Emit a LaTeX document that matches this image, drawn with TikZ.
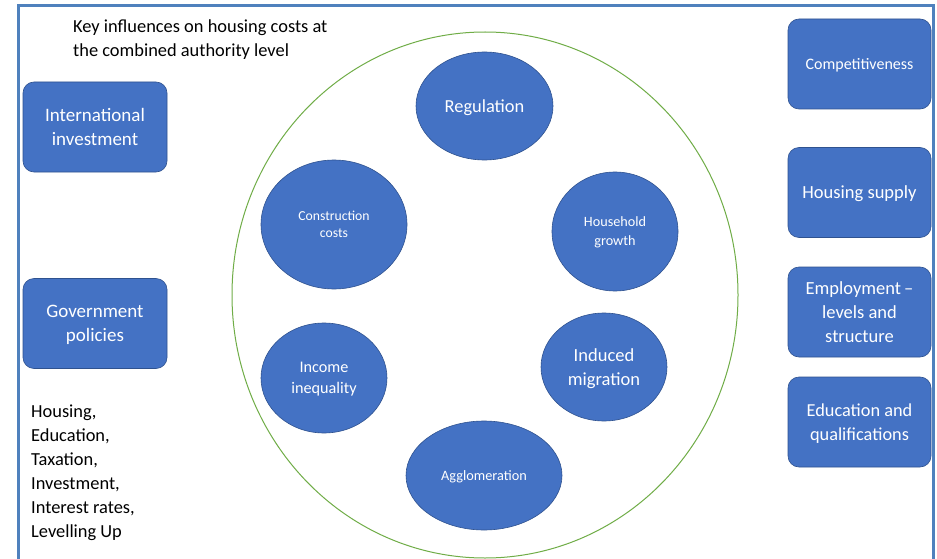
\documentclass[tikz,border=0pt]{standalone}
\usepackage{fontspec}
\setmainfont{Carlito}
\usetikzlibrary{shapes.geometric}
\definecolor{framec}{RGB}{79,129,189}
\definecolor{fillc}{RGB}{68,114,196}
\definecolor{edgec}{RGB}{47,82,143}
\definecolor{ringc}{RGB}{112,173,71}
\begin{document}
\begin{tikzpicture}[x=1pt,y=-1pt,
  box/.style={draw=edgec, line width=0.6pt, fill=fillc, rounded corners=11pt, text=white, align=center, inner sep=0pt, minimum width=143pt, minimum height=90pt, text depth=-4pt},
  blob/.style={ellipse, draw=edgec, line width=0.6pt, fill=fillc, text=white, align=center, inner sep=0pt, text depth=0pt},
  fs/.style={font=\fontsize{#1}{24}\selectfont},
]
\useasboundingbox (0,0) rectangle (937,559);
\fill[white] (0,0) rectangle (937,559);
\draw[framec, line width=3pt] (18,600) -- (18,5.5) -- (933,5.5) -- (933,600);

% title and list
\node[anchor=west, align=left, inner sep=0pt, fs=18.4] (title) at (73,40) {Key influences on housing costs at\\the combined authority level};
\node[anchor=west, align=left, inner sep=0pt, fs=18.4] (list) at (31,473) {Housing,\\Education,\\Taxation,\\Investment,\\Interest rates,\\Levelling Up};

% ring
\node[ellipse, draw=ringc, line width=1pt, minimum width=506pt, minimum height=526pt, inner sep=0pt] (ring) at (485,295) {};

% left boxes
\node[box, minimum width=144pt, fs=19] (intl) at (95,127) {International\\investment};
\node[box, minimum width=144pt, fs=19] (gov) at (95,323.5) {Government\\policies};

% right boxes
\node[box, fs=16] (comp) at (859.5,64) {Competitiveness};
\node[box, fs=18.5] (hsup) at (859.5,192.5) {Housing supply};
\node[box, fs=18.5] (emp) at (859.5,312) {Employment\,--\\levels and\\structure};
\node[box, fs=18.3] (edu) at (859.5,422) {Education and\\qualifications};

% ellipses
\node[blob, minimum width=137pt, minimum height=108pt, fs=18.4] (reg) at (484.5,106) {Regulation};
\node[blob, minimum width=146pt, minimum height=129pt, font=\fontsize{13.7}{17}\selectfont] (cons) at (334,224.5) {Construction\\costs};
\node[blob, minimum width=126pt, minimum height=119pt, font=\fontsize{14.2}{19}\selectfont] (hh) at (615,231.5) {Household\\growth};
\node[blob, minimum width=126pt, minimum height=110pt, font=\fontsize{16.2}{21}\selectfont] (inc) at (324,378) {Income\\inequality};
\node[blob, minimum width=126pt, minimum height=108pt, fs=18.5] (ind) at (604,367) {Induced\\migration};
\node[blob, minimum width=156pt, minimum height=109pt, font=\fontsize{14.3}{18}\selectfont] (agg) at (484,475.5) {Agglomeration};
\end{tikzpicture}
\end{document}
